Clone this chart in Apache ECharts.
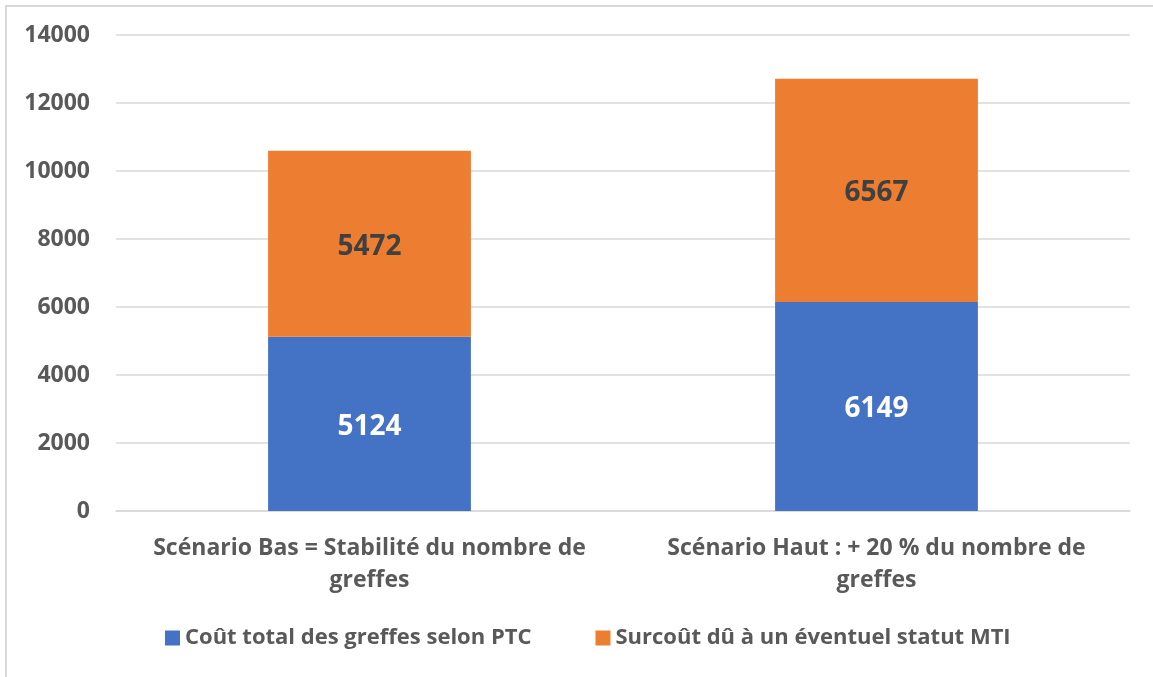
<!DOCTYPE html>
<html>
<head>
<meta charset="utf-8">
<script src="https://cdn.jsdelivr.net/npm/echarts@6/dist/echarts.min.js"></script>
<style>
html,body{margin:0;padding:0;background:#fff;}
#chart{position:absolute;left:0;top:0;width:1153px;height:677px;}
#frame{position:absolute;left:5px;top:5px;width:1160px;height:700px;border-left:2px solid #D9D9D9;border-top:2px solid #D9D9D9;pointer-events:none;}
</style>
</head>
<body>
<div id="chart"></div>
<div id="frame"></div>
<script>
const categories = ["Scénario Bas = Stabilité du nombre de\ngreffes", "Scénario Haut : + 20 % du nombre de\ngreffes"];
const seriesNames = ["Coût total des greffes selon PTC", "Surcoût dû à un éventuel statut MTI"];
const coutTotal = [5124, 6149];
const surcout = [5472, 6567];
const yTicks = [0, 2000, 4000, 6000, 8000, 10000, 12000, 14000];

const FONT = "Open Sans";
const chart = echarts.init(document.getElementById('chart'));
chart.setOption({
  animation: false,
  textStyle: {fontFamily: FONT},
  grid: {left: 116, right: 23, top: 35, bottom: 166, containLabel: false},
  legend: {
    data: seriesNames,
    bottom: 23,
    left: 160,
    icon: 'rect',
    itemWidth: 15,
    itemHeight: 15,
    itemGap: 64,
    textStyle: {fontFamily: FONT, fontWeight: 'bold', fontSize: 22, color: '#595959'}
  },
  xAxis: {
    type: 'category',
    data: categories,
    axisLine: {show: true, lineStyle: {color: '#D9D9D9', width: 1.5}},
    axisTick: {show: false},
    axisLabel: {
      margin: 21,
      fontFamily: FONT, fontWeight: 'bold', fontSize: 23, color: '#595959',
      lineHeight: 32, interval: 0
    }
  },
  yAxis: {
    type: 'value',
    min: yTicks[0],
    max: yTicks[yTicks.length - 1],
    interval: 2000,
    axisLine: {show: false},
    axisTick: {show: false},
    splitLine: {lineStyle: {color: '#D9D9D9', width: 1.5}},
    axisLabel: {margin: 26, fontFamily: FONT, fontWeight: 'bold', fontSize: 23, color: '#595959',
      formatter: v => String(v)}
  },
  series: [
    {
      name: seriesNames[0], type: 'bar', stack: 'total', data: coutTotal,
      barWidth: '40%',
      itemStyle: {color: '#4472C4'},
      label: {show: true, position: 'inside', offset: [0, 3], fontFamily: FONT, fontWeight: 'bold', fontSize: 28, color: '#FFFFFF'}
    },
    {
      name: seriesNames[1], type: 'bar', stack: 'total', data: surcout,
      barWidth: '40%',
      itemStyle: {color: '#ED7D31'},
      label: {show: true, position: 'inside', offset: [0, 3], fontFamily: FONT, fontWeight: 'bold', fontSize: 28, color: '#404040'}
    }
  ]
});
</script>
</body>
</html>
